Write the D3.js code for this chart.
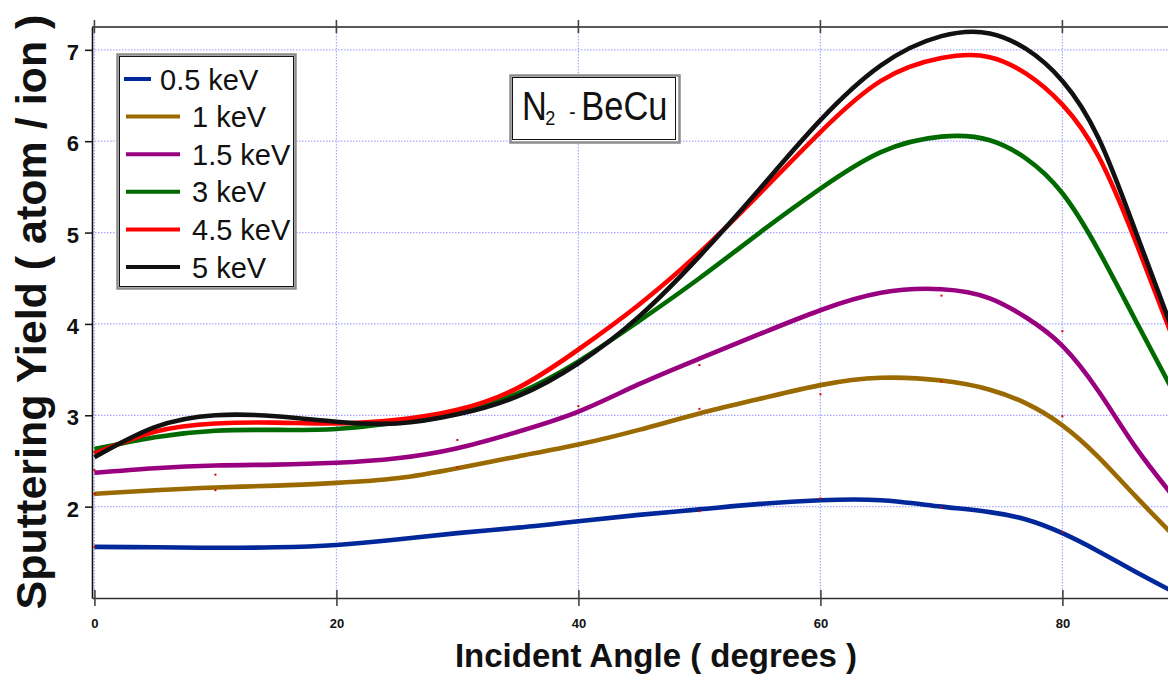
<!DOCTYPE html>
<html>
<head>
<meta charset="utf-8">
<script src="https://cdn.jsdelivr.net/npm/d3@7"></script>
<style>
  body { margin: 0; background: #fff; }
  svg { display: block; font-family: "Liberation Sans", Arial, sans-serif; }
</style>
</head>
<body>
<svg id="chart" width="1168" height="689"></svg>
<script>
// Incident angle (degrees) at which each yield curve is sampled
const angles = [0, 5, 10, 15, 20, 25, 30, 35, 40, 45, 50, 55, 60, 65, 70, 74, 77, 80, 83, 86, 89];

// Sputtering yield (atom / ion) for N2 on BeCu, one array per beam energy
const yield05 = [1.56, 1.555, 1.55, 1.555, 1.58, 1.64, 1.71, 1.77, 1.84, 1.91, 1.97, 2.03, 2.07, 2.07, 2.00, 1.94, 1.86, 1.71, 1.51, 1.29, 1.08];
const yield10 = [2.14, 2.18, 2.21, 2.23, 2.26, 2.31, 2.42, 2.55, 2.68, 2.84, 3.02, 3.18, 3.33, 3.41, 3.38, 3.28, 3.13, 2.89, 2.54, 2.12, 1.71];
const yield15 = [2.37, 2.42, 2.45, 2.46, 2.48, 2.53, 2.64, 2.82, 3.04, 3.34, 3.62, 3.89, 4.15, 4.34, 4.38, 4.28, 4.07, 3.76, 3.26, 2.66, 2.14];
const yield30 = [2.63, 2.76, 2.83, 2.84, 2.85, 2.92, 3.03, 3.24, 3.59, 4.03, 4.50, 5.00, 5.48, 5.88, 6.05, 6.01, 5.81, 5.43, 4.80, 4.05, 3.30];
const yield45 = [2.58, 2.82, 2.91, 2.92, 2.91, 2.95, 3.06, 3.30, 3.72, 4.21, 4.78, 5.43, 6.10, 6.66, 6.91, 6.92, 6.74, 6.40, 5.83, 4.92, 3.89];
const yield50 = [2.54, 2.87, 3.00, 2.99, 2.93, 2.91, 3.01, 3.21, 3.57, 4.08, 4.74, 5.48, 6.23, 6.83, 7.15, 7.18, 7.01, 6.66, 6.03, 5.03, 3.97];

const energyLabels = ["0.5 keV", "1 keV", "1.5 keV", "3 keV", "4.5 keV", "5 keV"];
const energyColors = ["#00289a", "#9a6a00", "#990080", "#006a00", "#ff0000", "#111111"];

// Measured points shown as small red markers
const pointAngles = [0, 0, 0, 0, 10, 10, 30, 30, 40, 50, 50, 50, 60, 60, 70, 70, 70, 80, 80, 80];
const pointValues = [1.56, 2.14, 2.40, 2.60, 2.18, 2.35, 2.43, 2.73, 3.10, 1.95, 3.07, 3.55, 2.09, 3.23, 1.99, 3.37, 4.31, 1.72, 2.99, 3.92];

const xTicks = [0, 20, 40, 60, 80];
const yTicks = [2, 3, 4, 5, 6, 7];

// Curve factory: natural cubic spline y(x) over non-uniform x knots,
// emitted as one exact cubic Bezier segment per interval.
function SplineX(context) { this._context = context; }
SplineX.prototype = {
  areaStart() { this._line = 0; },
  areaEnd() { this._line = NaN; },
  lineStart() { this._xs = []; this._ys = []; },
  point(px, py) { this._xs.push(+px); this._ys.push(+py); },
  lineEnd() {
    const xs = this._xs, ys = this._ys, n = xs.length, ctx = this._context;
    if (!n) return;
    ctx.moveTo(xs[0], ys[0]);
    if (n < 3) { for (let i = 1; i < n; i++) ctx.lineTo(xs[i], ys[i]); return; }
    const h = [], M = new Array(n).fill(0);
    for (let i = 0; i < n - 1; i++) h.push(xs[i + 1] - xs[i]);
    // tridiagonal system for interior second derivatives
    const a = [], b = [], c = [], r = [];
    for (let i = 1; i < n - 1; i++) {
      a.push(h[i - 1]); b.push(2 * (h[i - 1] + h[i])); c.push(h[i]);
      r.push(6 * ((ys[i + 1] - ys[i]) / h[i] - (ys[i] - ys[i - 1]) / h[i - 1]));
    }
    const m = r.length;
    for (let i = 1; i < m; i++) {
      const w = a[i] / b[i - 1];
      b[i] -= w * c[i - 1];
      r[i] -= w * r[i - 1];
    }
    const sol = new Array(m);
    sol[m - 1] = r[m - 1] / b[m - 1];
    for (let i = m - 2; i >= 0; i--) sol[i] = (r[i] - c[i] * sol[i + 1]) / b[i];
    for (let i = 0; i < m; i++) M[i + 1] = sol[i];
    for (let i = 0; i < n - 1; i++) {
      const hi = h[i], s = (ys[i + 1] - ys[i]) / hi;
      const d0 = s - hi * (2 * M[i] + M[i + 1]) / 6;
      const d1 = s + hi * (M[i] + 2 * M[i + 1]) / 6;
      ctx.bezierCurveTo(xs[i] + hi / 3, ys[i] + d0 * hi / 3,
                        xs[i + 1] - hi / 3, ys[i + 1] - d1 * hi / 3,
                        xs[i + 1], ys[i + 1]);
    }
  }
};
const curveSplineX = context => new SplineX(context);

const svg = d3.select("#chart");
const W = 1168, H = 689;
const plotLeft = 92, plotTop = 27, plotBottom = 598;

svg.append("rect").attr("width", W).attr("height", H).attr("fill", "#fff");

const x = d3.scaleLinear().domain([-0.2, 90]).range([plotLeft, 1183.4]);
const y = d3.scaleLinear().domain([1.0, 7.25]).range([plotBottom, plotTop]);

// dotted grid
const grid = svg.append("g").attr("stroke", "#8a8aff").attr("stroke-width", 1.2)
  .attr("stroke-dasharray", "1.5,1.5").attr("opacity", 0.75);
grid.selectAll("line.v").data(xTicks).join("line").attr("class", "v")
  .attr("x1", d => x(d)).attr("x2", d => x(d)).attr("y1", plotTop).attr("y2", plotBottom);
grid.selectAll("line.h").data(yTicks).join("line").attr("class", "h")
  .attr("x1", plotLeft).attr("x2", W).attr("y1", d => y(d)).attr("y2", d => y(d));

// top frame line with crossing ticks
svg.append("line").attr("x1", plotLeft).attr("x2", W).attr("y1", plotTop).attr("y2", plotTop)
  .attr("stroke", "#222").attr("stroke-width", 1.5);
svg.append("g").selectAll("line").data(xTicks).join("line")
  .attr("x1", d => x(d)).attr("x2", d => x(d)).attr("y1", plotTop - 7).attr("y2", plotTop + 6)
  .attr("stroke", "#444").attr("stroke-width", 1.6);

// curves
svg.append("clipPath").attr("id", "plotClip").append("rect")
  .attr("x", plotLeft).attr("y", plotTop).attr("width", W - plotLeft).attr("height", plotBottom - plotTop);

const seriesData = [yield05, yield10, yield15, yield30, yield45, yield50];
const line = d3.line()
  .x((d, i) => x(angles[i]))
  .y(d => y(d))
  .curve(curveSplineX);

const curves = svg.append("g").attr("clip-path", "url(#plotClip)");
seriesData.forEach((vals, k) => {
  curves.append("path").datum(vals)
    .attr("d", line)
    .attr("fill", "none")
    .attr("stroke", energyColors[k])
    .attr("stroke-width", 4.6)
    .attr("stroke-linejoin", "round");
});

// measured points
curves.append("g").selectAll("rect").data(pointAngles).join("rect")
  .attr("x", (d) => x(d) - 1)
  .attr("y", (d, i) => y(pointValues[i]) - 1)
  .attr("width", 2).attr("height", 2)
  .attr("fill", "#e00000");

// y axis
const yAxis = svg.append("g").attr("transform", `translate(${plotLeft},0)`)
  .call(d3.axisLeft(y).tickValues(yTicks).tickSize(7).tickSizeOuter(0).tickPadding(6)
    .tickFormat(d3.format("d")));
yAxis.select(".domain").attr("stroke", "#111").attr("stroke-width", 1.6);
yAxis.selectAll(".tick line").attr("stroke", "#111").attr("stroke-width", 1.5);
yAxis.selectAll(".tick text").attr("font-size", 22).attr("font-weight", "bold")
  .attr("fill", "#111").attr("dy", "0.43em")
  .attr("font-family", "'Liberation Sans', Arial, sans-serif");

// x axis
const xAxis = svg.append("g").attr("transform", `translate(0,${plotBottom})`)
  .call(d3.axisBottom(x).tickValues(xTicks).tickSize(8).tickSizeOuter(0).tickFormat(d3.format("d")));
xAxis.select(".domain").attr("stroke", "#333").attr("stroke-width", 1.6);
xAxis.selectAll(".tick line").attr("y1", -8).attr("y2", 8).attr("stroke", "#444").attr("stroke-width", 1.6);
xAxis.selectAll(".tick text").attr("y", 21).attr("font-size", 13).attr("font-weight", "bold")
  .attr("fill", "#111").attr("font-family", "'Liberation Sans', Arial, sans-serif");

// axis titles
svg.append("text")
  .attr("transform", "translate(46,312) rotate(-90)")
  .attr("text-anchor", "middle")
  .attr("font-size", 43).attr("font-weight", "bold").attr("fill", "#111")
  .text("Sputtering Yield ( atom / ion )");
svg.append("text")
  .attr("x", 656).attr("y", 667)
  .attr("text-anchor", "middle")
  .attr("font-size", 33).attr("font-weight", "bold").attr("fill", "#111")
  .text("Incident Angle ( degrees )");

// legend
const legend = svg.append("g");
legend.append("rect").attr("x", 117.5).attr("y", 54.5).attr("width", 178).attr("height", 234)
  .attr("fill", "#fff").attr("stroke", "#8c8c8c").attr("stroke-width", 2.5);
legend.append("rect").attr("x", 119.5).attr("y", 56.5).attr("width", 174).attr("height", 230)
  .attr("fill", "none").attr("stroke", "#111").attr("stroke-width", 1);
const rowY = d3.scaleLinear().domain([0, 5]).range([79, 267]);
energyLabels.forEach((lab, k) => {
  const cy = rowY(k);
  const first = k === 0;
  legend.append("line")
    .attr("x1", first ? 124 : 126).attr("x2", first ? 151 : 180)
    .attr("y1", cy).attr("y2", cy)
    .attr("stroke", energyColors[k]).attr("stroke-width", 4);
  legend.append("text")
    .attr("x", first ? 160 : 192).attr("y", cy + 10.5)
    .attr("font-size", 29).attr("fill", "#111")
    .text(lab);
});

// sample label box
const tag = svg.append("g");
tag.append("rect").attr("x", 510.5).attr("y", 75.5).attr("width", 169).attr("height", 67)
  .attr("fill", "#fff").attr("stroke", "#8c8c8c").attr("stroke-width", 2.5);
tag.append("rect").attr("x", 512.5).attr("y", 77.5).attr("width", 163).attr("height", 62)
  .attr("fill", "none").attr("stroke", "#111").attr("stroke-width", 1);
const tagText = tag.append("g").attr("transform", "translate(522,120) scale(0.86,1)")
  .append("text").attr("fill", "#111");
tagText.append("tspan").attr("x", 0).attr("y", 0).attr("font-size", 40).text("N");
tagText.append("tspan").attr("x", 27).attr("y", 5).attr("font-size", 21).text("2");
tagText.append("tspan").attr("x", 55).attr("y", -1).attr("font-size", 22).text("-");
tagText.append("tspan").attr("x", 69).attr("y", 0).attr("font-size", 40).text("BeCu");
</script>
</body>
</html>
